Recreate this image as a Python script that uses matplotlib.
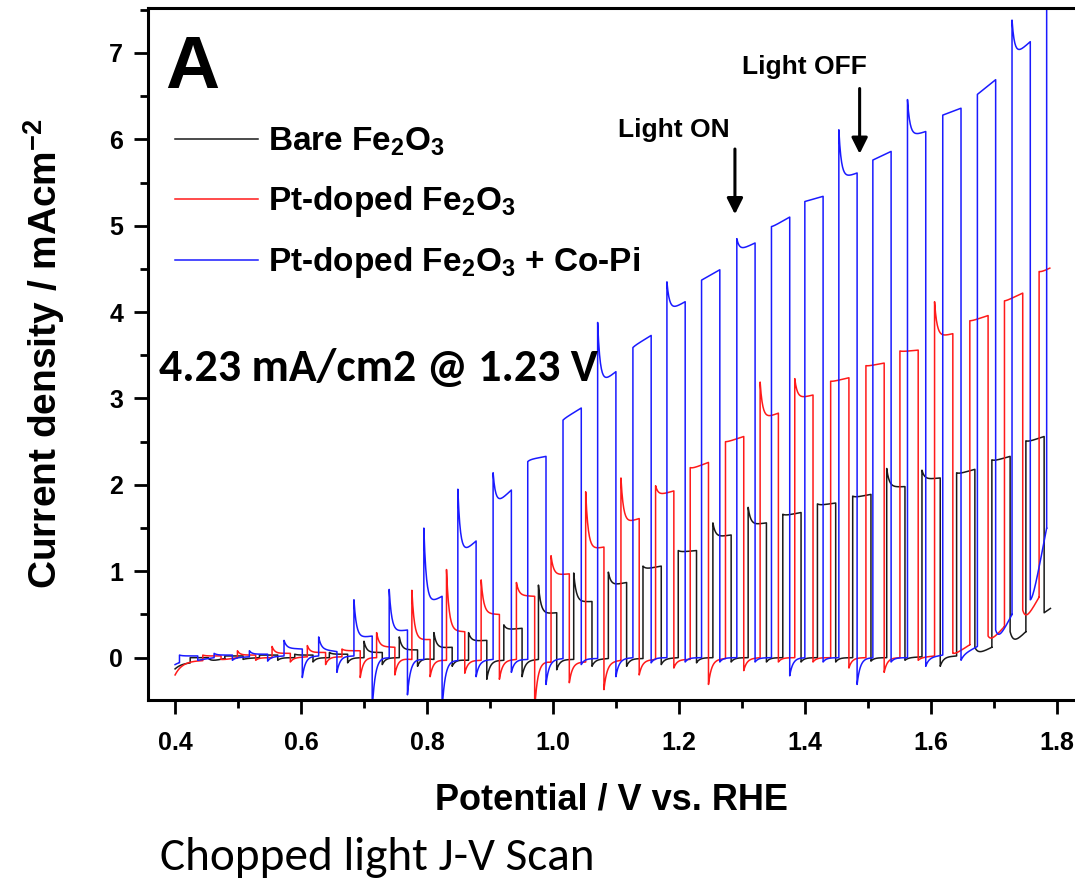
import matplotlib
matplotlib.use("Agg")
import matplotlib.pyplot as plt
import numpy as np
from matplotlib.ticker import MultipleLocator

plt.rcParams['mathtext.fontset'] = 'custom'
plt.rcParams['mathtext.rm'] = 'Liberation Sans:bold'
plt.rcParams['mathtext.it'] = 'Liberation Sans:bold'
plt.rcParams['mathtext.bf'] = 'Liberation Sans:bold'
plt.rcParams['mathtext.default'] = 'rm'

NARROW = ['Liberation Sans Narrow', 'Liberation Sans', 'DejaVu Sans']
ARIAL = ['Liberation Sans', 'DejaVu Sans']
CALIBRI = ['Carlito', 'Lato', 'DejaVu Sans']

# chopped light scan (V vs RHE, mA/cm2)
# Bare Fe2O3
bare_on = [0.424, 0.479, 0.534, 0.590, 0.645, 0.700, 0.756, 0.811, 0.866, 0.922, 0.977, 1.033, 1.088,
           1.143, 1.199, 1.254, 1.310, 1.365, 1.420, 1.476, 1.530, 1.586, 1.641, 1.697, 1.751]
bare_dark = [-0.05, -0.01, 0.0, 0.0, 0.0, 0.0, 0.0, -0.02, -0.03, -0.03, -0.02, -0.02, -0.01,
             -0.01, 0.0, 0.0, 0.0, 0.0, 0.0, 0.0, 0.0, 0.01, 0.02, 0.12, 0.30]
bare_spike = [0.0, 0.02, 0.03, 0.04, 0.06, 0.19, 0.24, 0.29, 0.29, 0.38, 0.84, 0.98, 0.99,
              1.06, 1.24, 1.56, 1.74, 1.66, 1.78, 1.87, 2.19, 2.17, 2.14, 2.29, 2.51]
bare_on0 = [0.0, 0.02, 0.03, 0.03, 0.04, 0.06, 0.09, 0.11, 0.19, 0.32, 0.50, 0.64, 0.83,
            1.02, 1.22, 1.39, 1.53, 1.64, 1.76, 1.85, 1.97, 2.06, 2.12, 2.27, 2.49]
bare_on1 = [0.0, 0.02, 0.03, 0.03, 0.04, 0.06, 0.09, 0.12, 0.20, 0.34, 0.52, 0.65, 0.87,
            1.06, 1.24, 1.42, 1.56, 1.68, 1.79, 1.89, 1.98, 2.08, 2.18, 2.33, 2.56]
bare_dip = [-0.01, -0.02, -0.03, -0.05, -0.06, -0.08, -0.10, -0.10, -0.25, -0.22, -0.14, -0.10, -0.10,
            -0.08, -0.06, -0.05, -0.05, -0.05, -0.05, -0.04, -0.03, -0.10, 0.12, 0.30, 0.52]
bare_start = (0.40, -0.13)
bare_end = (1.790, 0.57)

# Pt-doped Fe2O3
pt_on = [0.444, 0.499, 0.554, 0.610, 0.665, 0.720, 0.776, 0.831, 0.886, 0.942, 0.997, 1.052, 1.108,
         1.163, 1.218, 1.274, 1.329, 1.384, 1.441, 1.497, 1.551, 1.606, 1.662, 1.717, 1.772]
pt_dark = [-0.03, 0.0, 0.0, 0.01, 0.01, 0.0, -0.02, -0.03, -0.03, -0.02, -0.05, -0.05, -0.03,
           -0.02, -0.02, -0.01, 0.0, 0.0, 0.0, 0.0, 0.0, 0.02, 0.15, 0.36, 0.70]
pt_spike = [0.03, 0.08, 0.13, 0.14, 0.10, 0.29, 0.78, 1.02, 0.90, 0.87, 1.18, 1.92, 2.08,
            1.99, 2.20, 2.50, 3.19, 3.23, 3.20, 3.38, 3.55, 4.12, 3.90, 4.13, 4.47]
pt_on0 = [0.02, 0.03, 0.05, 0.06, 0.08, 0.13, 0.20, 0.31, 0.51, 0.72, 0.95, 1.24, 1.54,
          1.87, 2.18, 2.49, 2.75, 2.99, 3.19, 3.37, 3.54, 3.70, 3.89, 4.12, 4.45]
pt_on1 = [0.02, 0.03, 0.05, 0.06, 0.08, 0.12, 0.21, 0.30, 0.50, 0.71, 0.97, 1.28, 1.61,
          1.93, 2.26, 2.56, 2.83, 3.04, 3.24, 3.41, 3.56, 3.75, 3.96, 4.22, 4.55]
pt_dip = [-0.02, -0.03, -0.05, -0.08, -0.23, -0.20, -0.22, -0.18, -0.25, -0.60, -0.29, -0.37, -0.20,
          -0.12, -0.31, -0.15, -0.05, -0.05, -0.12, -0.17, -0.03, 0.05, 0.25, 0.55, 4.5]
pt_start = (0.40, -0.20)
pt_end = (1.789, 4.55)

# Pt-doped Fe2O3 + Co-Pi
copi_on = [0.407, 0.462, 0.518, 0.573, 0.628, 0.684, 0.740, 0.795, 0.849, 0.905, 0.960, 1.016, 1.071,
           1.127, 1.181, 1.236, 1.292, 1.347, 1.400, 1.454, 1.508, 1.563, 1.619, 1.674, 1.729, 1.784]
copi_dark = [-0.03, 0.0, 0.01, 0.02, 0.02, 0.02, 0.0, -0.02, -0.03, -0.02, -0.02, -0.01, -0.01,
             0.0, 0.0, 0.0, 0.0, 0.0, 0.0, 0.0, 0.0, 0.0, 0.03, 0.13, 0.50, 1.50]
copi_spike = [0.03, 0.05, 0.08, 0.20, 0.24, 0.67, 0.79, 1.50, 1.95, 2.14, 2.27, 2.75, 3.88,
              3.59, 4.35, 4.37, 4.85, 4.99, 5.28, 6.11, 5.76, 6.46, 6.28, 6.52, 7.38, 8.0]
copi_on0 = [0.02, 0.03, 0.04, 0.11, 0.10, 0.22, 0.29, 0.59, 1.16, 1.74, 2.29, 2.76, 3.14,
            3.60, 4.00, 4.37, 4.70, 4.98, 5.28, 5.53, 5.76, 6.02, 6.28, 6.52, 6.94, 8.0]
copi_on1 = [0.02, 0.03, 0.04, 0.10, 0.07, 0.25, 0.32, 0.71, 1.35, 1.94, 2.33, 2.89, 3.31,
            3.73, 4.12, 4.49, 4.80, 5.10, 5.34, 5.61, 5.86, 6.09, 6.36, 6.69, 7.13, 8.0]
copi_dip = [-0.03, -0.03, -0.04, -0.23, -0.17, -0.60, -0.43, -0.60, -0.22, -0.17, -0.31, -0.08, -0.22,
            -0.06, -0.05, -0.05, -0.05, -0.21, -0.05, -0.31, -0.05, -0.10, -0.03, 0.32, 0.67, 8.0]
copi_start = (0.40, -0.08)
copi_end = (1.787, 8.0)

series = [
    ("Bare Fe$_{2}$O$_{3}$", "#1a1a1a", bare_on, bare_dark, bare_spike, bare_on0, bare_on1, bare_dip, bare_start, bare_end),
    ("Pt-doped Fe$_{2}$O$_{3}$", "#ff1a1a", pt_on, pt_dark, pt_spike, pt_on0, pt_on1, pt_dip, pt_start, pt_end),
    ("Pt-doped Fe$_{2}$O$_{3}$ + Co-Pi", "#1a1aff", copi_on, copi_dark, copi_spike, copi_on0, copi_on1, copi_dip, copi_start, copi_end),
]

ON_WIDTH = 0.029   # light-on duration in V
TAU_ON = 0.004     # spike relaxation
TAU_OFF = 0.005    # off transient relaxation


def dark_part(va, ja, base_a, vb, jb, tau):
    t = np.linspace(va, vb, 40)
    base = base_a + (jb - base_a) * (t - va) / (vb - va)
    return t, base + (ja - base_a) * np.exp(-(t - va) / tau)


def build_trace(v_on, dark, spike, on0, on1, dip, start, end):
    vs, js = [], []
    t, j = dark_part(start[0], start[1], dark[0], v_on[0], dark[0], 0.012)
    vs += list(t); js += list(j)
    n = len(v_on)
    for i in range(n):
        v0 = v_on[i]
        v1 = v0 + ON_WIDTH
        vstop = min(v1, end[0])
        t = np.linspace(v0, vstop, 40)
        line = on0[i] + (on1[i] - on0[i]) * (t - v0) / ON_WIDTH
        j = line + (spike[i] - on0[i]) * np.exp(-(t - v0) / TAU_ON)
        vs += [v0] + list(t); js += [dark[i]] + list(j)
        if vstop < v1:
            break
        vs.append(v1); js.append(dip[i])
        if i + 1 < n:
            t, j = dark_part(v1, dip[i], dark[i], v_on[i + 1], dark[i + 1], TAU_OFF)
        else:
            t, j = dark_part(v1, dip[i], dip[i], end[0], end[1], TAU_OFF)
        vs += list(t); js += list(j)
    return vs, js


fig = plt.figure(figsize=(10.75, 8.83), dpi=100)
ax = fig.add_axes([148 / 1075, 1 - 700 / 883, 1 - 148 / 1075, (700 - 8) / 883])

handles = []
for label, color, v_on, dark, spike, on0, on1, dip, start, end in series:
    vs, js = build_trace(v_on, dark, spike, on0, on1, dip, start, end)
    h, = ax.plot(vs, js, color=color, lw=1.1, label=label)
    handles.append(h)

ax.set_xlim(0.357, 1.829)
ax.set_ylim(-0.49, 7.52)
ax.xaxis.set_major_locator(MultipleLocator(0.2))
ax.xaxis.set_minor_locator(MultipleLocator(0.1))
ax.yaxis.set_major_locator(MultipleLocator(1))
ax.yaxis.set_minor_locator(MultipleLocator(0.5))
ax.tick_params(which='major', direction='out', length=10, width=2)
ax.tick_params(which='minor', direction='out', length=6, width=2)
ax.tick_params(axis='x', which='major', pad=12)
ax.tick_params(axis='y', which='major', pad=8)
ax.spines['right'].set_visible(False)
for s in ['left', 'bottom', 'top']:
    ax.spines[s].set_linewidth(2.2)
ax.set_xticks([0.4, 0.6, 0.8, 1.0, 1.2, 1.4, 1.6, 1.8])
ax.set_xticklabels(["0.4", "0.6", "0.8", "1.0", "1.2", "1.4", "1.6", "1.8"])
ax.set_yticks([0, 1, 2, 3, 4, 5, 6, 7])
ax.set_yticklabels(["0", "1", "2", "3", "4", "5", "6", "7"])
for lab in ax.get_xticklabels() + ax.get_yticklabels():
    lab.set_family(NARROW)
    lab.set_fontweight('bold')
    lab.set_fontsize(18)

ax.set_xlabel("Potential / V vs. RHE", family=NARROW, fontweight='bold', fontsize=26, labelpad=20)
ax.set_ylabel("Current density / mAcm$^{-2}$", family=ARIAL, fontweight='bold', fontsize=28, labelpad=30)

leg = ax.legend(handles=handles, loc='upper left', bbox_to_anchor=(0.0, 0.868), frameon=False,
                handlelength=2.5, handletextpad=0.3, labelspacing=0.78, borderaxespad=0.4,
                prop={'family': ARIAL, 'weight': 'bold', 'size': 24})

ax.text(0.018, 0.962, "A", transform=ax.transAxes, family=ARIAL, fontweight='bold', fontsize=54,
        va='top', ha='left')
ax.text(0.012, 0.48, "4.23 mA/cm2 @ 1.23 V", transform=ax.transAxes, family=CALIBRI,
        fontweight='bold', fontsize=33, va='center', ha='left')

ax.annotate("", xy=(1.289, 5.10), xytext=(1.289, 5.92),
            arrowprops=dict(arrowstyle='-|>', color='black', lw=2.2, mutation_scale=24))
ax.text(1.192, 6.11, "Light ON", ha='center', va='center', family=ARIAL, fontweight='bold', fontsize=19)
ax.annotate("", xy=(1.487, 5.80), xytext=(1.487, 6.62),
            arrowprops=dict(arrowstyle='-|>', color='black', lw=2.2, mutation_scale=24))
ax.text(1.40, 6.84, "Light OFF", ha='center', va='center', family=ARIAL, fontweight='bold', fontsize=19)

fig.text(160 / 1075, 1 - 857 / 883, "Chopped light J-V Scan", family=CALIBRI, fontsize=34,
         va='center', ha='left')

fig.savefig("out.png", dpi=100)
